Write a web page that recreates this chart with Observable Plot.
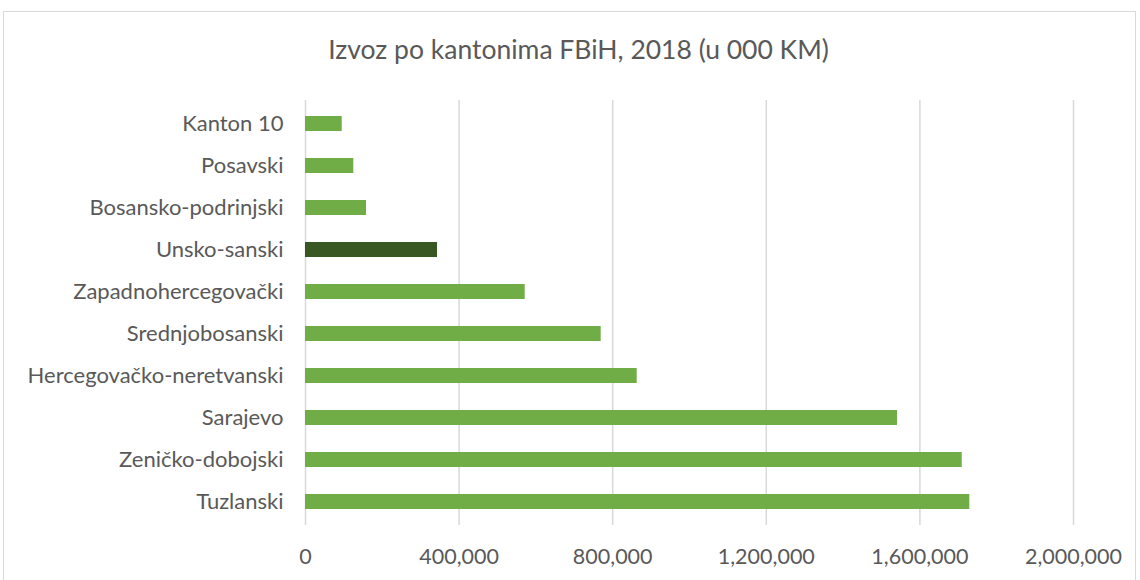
<!DOCTYPE html>
<html><head><meta charset="utf-8">
<script src="https://cdn.jsdelivr.net/npm/d3@7"></script>
<script src="https://cdn.jsdelivr.net/npm/@observablehq/plot@0.6"></script>
<style>
body{margin:0;background:#fff;}
#wrap{position:relative;width:1140px;height:580px;overflow:hidden;font-family:Lato,sans-serif;}
#frame{position:absolute;left:3px;top:11px;width:1133px;height:600px;border:1px solid #d9d9d9;box-sizing:border-box;}
#title{position:absolute;top:33px;left:0;width:1157px;text-align:center;font-size:26.5px;color:#595959;white-space:nowrap;}
#chart{position:absolute;left:0;top:0;}
</style></head><body>
<div id="wrap"><div id="frame"></div><div id="title">Izvoz po kantonima FBiH, 2018 (u 000 KM)</div><div id="chart"></div></div>
<script>
const cantons = ["Kanton 10","Posavski","Bosansko-podrinjski","Unsko-sanski","Zapadnohercegovački","Srednjobosanski","Hercegovačko-neretvanski","Sarajevo","Zeničko-dobojski","Tuzlanski"];
const exportValues = [95600,125800,158900,343800,572100,770000,863800,1541700,1710200,1730000];
const highlighted = "Unsko-sanski";
const xTicks = [0,400000,800000,1200000,1600000,2000000];

const data = cantons.map((c,i)=>({canton:c, value:exportValues[i]}));

const chart = Plot.plot({
  width:1140, height:580,
  marginLeft:305, marginRight:67, marginTop:100, marginBottom:55,
  style:{fontFamily:"Lato, sans-serif", background:"transparent", overflow:"visible"},
  x:{domain:[0,2000000]},
  y:{domain:cantons, paddingInner:0.635, paddingOuter:0.3175},
  marks:[
    Plot.gridX(xTicks,{stroke:"#d9d9d9", strokeOpacity:1, strokeWidth:1.5}),
    Plot.barX(data,{filter:d=>d.canton!==highlighted, x:"value", y:"canton", fill:"#70ad47"}),
    Plot.barX(data,{filter:d=>d.canton===highlighted, x:"value", y:"canton", fill:"#385723"}),
    Plot.axisX(xTicks,{tickSize:0, tickPadding:23, tickFormat:d3.format(","), fontSize:21.5, fill:"#595959", label:null}),
    Plot.axisY({tickSize:0, tickPadding:22, fontSize:22, fill:"#595959", label:null})
  ]
});
document.getElementById("chart").appendChild(chart);
</script>
</body></html>
